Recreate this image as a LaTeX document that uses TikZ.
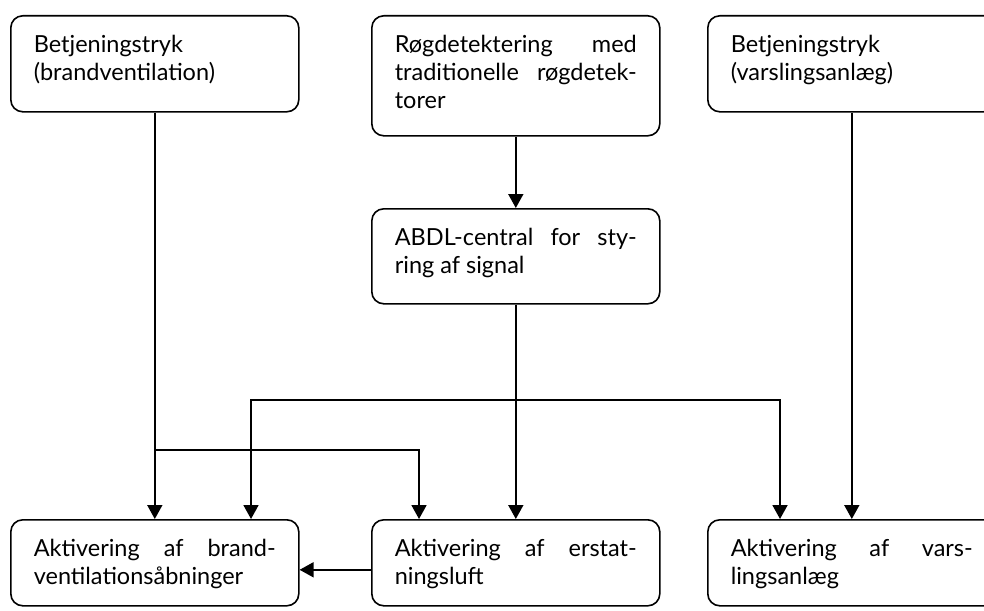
\documentclass[tikz,border=0pt]{standalone}
\usepackage{fontspec}
\setmainfont{Lato}
\usetikzlibrary{arrows.meta,calc}
\newcommand{\boxtext}[2]{\parbox[c][#1][t]{242pt}{\fontsize{23.5}{28}\selectfont\tolerance=10000\emergencystretch=20pt\hyphenpenalty=10000\hfuzz=20pt\rule{0pt}{37pt}#2}}
\begin{document}
\begin{tikzpicture}[x=1pt,y=-1pt,
  box/.style={draw, line width=1.6pt, rounded corners=12pt, anchor=north west,
    inner xsep=23pt, inner ysep=0pt, minimum width=288pt, align=left},
  arr/.style={line width=1.8pt, -{Triangle[length=14pt,width=15pt]}},
  darr/.style={line width=1.8pt, {Triangle[length=14pt,width=15pt]}-{Triangle[length=14pt,width=15pt]}}
  ]
\useasboundingbox (0,0) rectangle (984,610);
\node[box] (A) at (10,15) {\boxtext{96pt}{Betjeningstryk\\(brandventilation)}};
\node[box] (B) at (371,15) {\boxtext{120pt}{Røgdetektering med\linebreak traditionelle røgdetek-\linebreak torer}};
\node[box] (C) at (707,15) {\boxtext{96pt}{Betjeningstryk\\(varslingsanlæg)}};
\node[box] (D) at (371,208) {\boxtext{95pt}{ABDL-central for sty-\linebreak ring af signal}};
\node[box] (E) at (10,519) {\boxtext{86pt}{Aktivering af brand-\linebreak ventilationsåbninger}};
\node[box] (F) at (371,519) {\boxtext{86pt}{Aktivering af erstat-\linebreak ningsluft}};
\node[box] (G) at (707,519) {\boxtext{86pt}{Aktivering af vars-\linebreak lingsanlæg}};
% connectors
\draw[arr] (A.south) -- (A.south |- E.north);
\coordinate (j1) at ($(A.south)+(0,337.5)$);
\draw[arr] (j1) -| ($(F.north west)+(48,0)$);
\draw[arr] (B.south) -- (D.north);
\draw[arr] (D.south) -- (F.north);
\draw[darr] ($(E.north west)+(241,0)$) -- ++(0,-119) -| ($(G.north west)+(73,0)$);
\draw[arr] (C.south) -- (C.south |- G.north);
\coordinate (h) at ($(F.west)+(0,7)$);
\draw[arr] (h) -- (h -| E.east);
\end{tikzpicture}
\end{document}
